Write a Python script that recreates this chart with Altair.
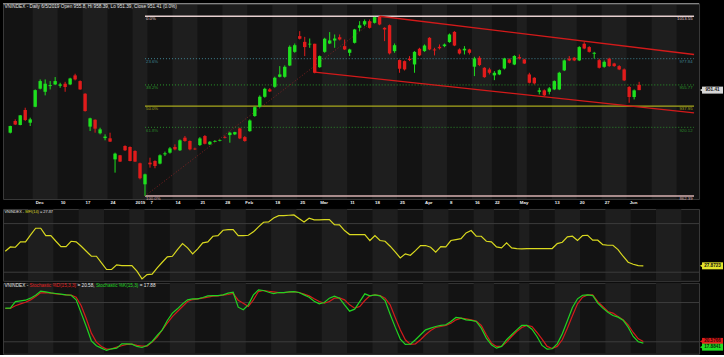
import altair as alt
import pandas as pd

FONT = "Liberation Sans"

# ---------------- data (index 0 = 26 Nov 2018 ... 126 = 5 Jun 2019) ----------------
OPEN = [
    915.6, 925.4, 922.1, 934.7, 924.0, 937.4, 952.6, 950.0, 954.8, 956.2,
    955.1, 956.8, 956.2, 963.8, 959.0, 948.4, 920.7, 926.5, 915.1, 911.1,
    910.9, 893.2, 896.6, 904.4, 903.6, 900.2, 889.9, 872.2, 890.4, 891.8,
    889.6, 897.4, 898.8, 903.6, 900.8, 911.4, 908.6, 902.2, 905.2, 912.8,
    905.8, 908.0, 908.6, 912.0, 913.6, 914.2, 919.2, 911.9, 916.9, 929.6,
    937.4, 945.8, 952.0, 954.2, 962.6, 962.6, 972.1, 983.6, 996.8, 992.0,
    989.8, 990.4, 970.7, 983.6, 990.6, 993.1, 995.9, 988.4, 982.8, 991.2,
    1003.8, 1006.6, 1009.4, 1008.0, 1013.0, 1003.8, 1006.0, 984.2, 976.7, 975.8,
    977.8, 973.0, 986.2, 984.2, 995.4, 985.6, 987.8, 988.4, 991.8, 1000.4,
    985.6, 984.8, 985.6, 971.1, 978.6, 970.2, 968.8, 963.8, 964.6, 969.6,
    977.2, 973.0, 979.2, 977.2, 964.6, 961.8, 950.0, 951.2, 950.0, 952.0,
    952.0, 968.0, 977.8, 978.6, 976.4, 990.4, 987.6, 982.0, 976.6, 971.0,
    977.8, 973.8, 971.6, 968.8, 954.0, 945.6, 955.8,
]
HIGH = [
    921.5, 926.8, 930.5, 936.6, 928.2, 952.0, 960.4, 960.4, 959.0, 962.4,
    957.6, 958.4, 961.8, 965.2, 959.6, 948.8, 928.2, 926.8, 919.8, 914.2,
    915.6, 898.8, 896.9, 905.0, 904.1, 900.8, 890.4, 881.2, 894.6, 892.4,
    897.4, 899.7, 903.6, 905.8, 910.0, 912.8, 909.1, 903.0, 911.9, 913.6,
    908.6, 909.4, 910.0, 913.1, 916.4, 916.4, 919.8, 912.8, 926.8, 937.9,
    947.0, 953.4, 953.1, 962.7, 971.6, 972.2, 989.0, 990.6, 1001.0, 996.2,
    994.8, 990.4, 980.6, 995.4, 1000.2, 998.2, 998.2, 994.0, 986.2, 1002.9,
    1009.4, 1010.8, 1010.8, 1013.0, 1013.55, 1004.3, 1006.6, 990.6, 977.2, 976.3,
    980.0, 984.2, 987.0, 989.8, 995.9, 987.0, 989.8, 990.6, 999.0, 1001.0,
    986.5, 988.4, 986.2, 979.4, 980.0, 970.7, 970.2, 967.4, 968.8, 978.6,
    978.0, 980.8, 981.4, 977.7, 966.0, 962.3, 953.4, 952.0, 954.0, 959.6,
    966.8, 977.2, 980.0, 979.2, 988.4, 991.7, 988.4, 983.6, 977.8, 976.4,
    978.6, 974.4, 972.4, 969.6, 954.8, 952.0, 958.39,
]
LOW = [
    915.0, 922.0, 921.8, 925.4, 921.2, 937.0, 952.0, 947.0, 952.0, 955.6,
    953.4, 950.0, 955.6, 959.6, 951.7, 933.3, 917.0, 915.6, 914.2, 909.2,
    907.8, 882.0, 891.0, 900.2, 891.5, 891.0, 876.4, 862.39, 886.2, 885.7,
    889.0, 896.0, 898.0, 900.8, 900.2, 908.0, 900.8, 901.0, 904.4, 905.8,
    905.2, 907.7, 908.3, 910.8, 907.2, 913.6, 910.2, 908.0, 916.4, 929.0,
    936.6, 945.0, 949.8, 953.4, 962.1, 961.8, 971.6, 982.8, 994.0, 980.0,
    987.0, 965.5, 970.2, 982.8, 990.1, 987.0, 993.2, 985.1, 980.0, 990.6,
    1001.0, 1005.2, 1003.2, 1007.4, 1006.0, 992.6, 981.4, 982.8, 966.0, 967.9,
    975.8, 966.0, 980.0, 983.6, 985.0, 980.6, 985.6, 987.5, 991.2, 988.4,
    981.4, 981.4, 981.4, 963.2, 971.6, 961.8, 964.6, 959.8, 964.0, 968.8,
    973.8, 972.4, 977.2, 973.5, 957.0, 956.2, 947.8, 946.4, 947.8, 951.4,
    951.4, 967.4, 975.8, 975.8, 975.8, 985.8, 983.0, 978.0, 969.6, 970.2,
    971.0, 971.0, 968.2, 959.0, 940.8, 943.6, 951.39,
]
CLOSE = [
    921.2, 922.6, 930.2, 926.3, 926.8, 951.4, 959.0, 956.8, 955.6, 959.0,
    956.2, 954.0, 961.2, 960.4, 952.0, 933.8, 927.7, 919.0, 918.4, 912.3,
    908.1, 898.0, 891.3, 900.8, 891.8, 891.3, 877.3, 880.6, 889.0, 887.6,
    896.6, 898.3, 902.4, 901.6, 909.2, 908.6, 901.6, 901.6, 910.8, 906.3,
    908.0, 908.6, 909.2, 911.4, 915.6, 916.1, 910.8, 908.6, 925.9, 937.1,
    945.9, 952.5, 950.3, 961.8, 964.6, 971.0, 987.8, 989.2, 994.6, 987.6,
    990.4, 966.0, 980.0, 994.6, 993.2, 994.8, 994.0, 985.6, 985.6, 1002.4,
    1005.9, 1009.4, 1003.8, 1012.8, 1006.6, 1002.4, 982.3, 989.2, 969.4, 968.8,
    976.7, 983.6, 980.6, 988.9, 985.6, 984.8, 986.6, 989.8, 998.2, 988.9,
    982.2, 986.2, 982.8, 978.0, 972.5, 962.3, 966.0, 966.0, 968.2, 978.0,
    974.4, 980.0, 978.0, 973.8, 957.6, 957.1, 951.2, 947.0, 952.9, 959.0,
    966.0, 976.4, 976.4, 976.4, 987.6, 986.4, 983.6, 982.8, 970.2, 975.2,
    971.6, 971.6, 968.8, 959.6, 945.6, 951.2, 951.41,
]
MFI = [
    45.9, 51.2, 50.8, 57.4, 57.4, 66.1, 74.3, 74.3, 65.2, 65.2,
    58.2, 51.6, 51.6, 58.2, 57.4, 52.1, 45.9, 39.7, 39.7, 31.5,
    23.3, 23.3, 29.0, 28.2, 28.2, 28.2, 21.2, 11.7, 17.1, 17.5,
    25.3, 32.3, 38.9, 39.7, 47.9, 55.3, 50.0, 42.6, 48.8, 56.2,
    57.4, 64.4, 65.2, 71.8, 72.6, 72.6, 65.2, 65.2, 65.6, 69.8,
    75.9, 81.7, 82.1, 87.0, 89.9, 89.9, 90.3, 90.7, 86.2, 82.1,
    86.6, 84.6, 84.6, 85.0, 85.0, 78.8, 78.4, 71.4, 66.5, 66.5,
    66.5, 66.5, 59.1, 65.2, 59.1, 58.2, 52.1, 45.1, 37.7, 42.6,
    40.9, 46.7, 52.9, 52.9, 50.8, 44.7, 51.6, 51.2, 59.1, 60.3,
    61.5, 68.5, 71.4, 64.4, 64.4, 58.2, 57.4, 51.2, 50.0, 56.2,
    50.0, 49.2, 48.8, 49.2, 49.2, 49.2, 49.2, 49.2, 49.2, 55.3,
    57.0, 63.6, 64.4, 59.1, 65.2, 65.6, 59.5, 59.5, 54.1, 53.3,
    53.3, 47.9, 39.7, 32.3, 29.8, 28.2, 27.87,
]
STOCH_K = [
    71.4, 71.4, 81.5, 82.5, 83.6, 86.7, 91.2, 97.3, 96.3, 94.8,
    93.8, 92.8, 91.7, 91.2, 84.1, 63.8, 43.4, 21.5, 13.9, 10.3,
    6.8, 9.3, 10.3, 16.9, 16.9, 16.4, 12.9, 11.3, 14.4, 20.5,
    29.6, 38.3, 52.6, 63.8, 70.4, 78.0, 84.1, 85.7, 85.7, 87.7,
    90.2, 90.7, 90.7, 91.7, 94.3, 95.8, 72.9, 68.9, 76.5, 91.7,
    99.4, 98.4, 95.8, 93.8, 95.3, 95.3, 96.3, 96.8, 95.3, 91.7,
    88.2, 82.0, 78.0, 80.0, 86.7, 89.7, 86.7, 76.5, 66.8, 69.9,
    81.5, 93.3, 90.2, 91.7, 90.2, 83.1, 62.2, 42.4, 24.1, 15.9,
    16.4, 23.1, 30.7, 38.3, 40.8, 43.4, 45.0, 46.0, 51.0, 57.2,
    56.1, 53.6, 52.6, 51.0, 40.8, 25.6, 15.4, 10.3, 12.9, 23.1,
    30.7, 38.3, 45.0, 45.0, 39.3, 28.1, 14.4, 8.8, 9.3, 16.9,
    32.2, 52.1, 72.4, 85.7, 91.2, 91.7, 90.7, 79.0, 71.4, 65.3,
    60.2, 57.7, 53.0, 42.4, 28.1, 20.0, 17.88,
]
STOCH_D = [
    70.9, 70.9, 75.0, 78.0, 80.5, 84.1, 89.2, 94.8, 95.3, 94.3,
    93.3, 92.3, 91.7, 91.2, 88.2, 75.0, 55.1, 33.2, 19.5, 12.9,
    8.8, 9.3, 11.9, 13.9, 15.9, 16.4, 14.4, 13.4, 13.4, 19.5,
    27.1, 38.3, 48.5, 58.6, 66.3, 73.9, 81.5, 84.6, 85.7, 86.7,
    88.2, 89.7, 90.2, 91.2, 92.3, 93.8, 83.6, 79.0, 73.9, 84.1,
    96.8, 98.4, 97.3, 96.3, 95.3, 95.3, 95.8, 96.8, 95.3, 92.8,
    90.2, 85.7, 81.5, 79.0, 81.5, 86.7, 87.2, 84.1, 76.5, 71.4,
    73.9, 83.1, 90.2, 91.7, 90.7, 86.7, 76.5, 57.2, 38.3, 23.1,
    15.9, 16.9, 23.1, 30.7, 37.3, 41.9, 43.4, 45.0, 48.5, 53.6,
    56.1, 55.1, 53.6, 51.6, 45.0, 30.7, 17.9, 12.9, 12.9, 19.5,
    28.1, 35.8, 41.9, 45.0, 43.4, 34.2, 24.1, 12.9, 9.8, 12.9,
    23.1, 40.8, 59.7, 78.0, 88.2, 91.7, 91.7, 81.5, 73.9, 66.3,
    63.8, 58.6, 53.6, 46.0, 34.2, 24.6, 20.58,
]

LABEL_IDX = [5, 10, 15, 20, 25, 28, 33, 38, 43, 47, 53, 58, 62, 68, 73, 78,
             83, 88, 93, 97, 102, 109, 114, 119, 124]
LABEL_TXT = ["Dec", "10", "17", "24", "2019", "7", "14", "21", "28", "Feb", "18",
             "25", "Mar", "11", "18", "25", "Apr", "8", "16", "22", "May", "13",
             "20", "27", "Jun"]
WEEK_START = [0, 5, 10, 15, 20, 25, 28, 33, 38, 43, 48, 53, 58, 63, 68, 73, 78,
              83, 88, 93, 97, 102, 104, 109, 114, 119, 124, 129, 134, 139]

FIB_PCT = ["0.0%", "23.6%", "38.2%", "50.0%", "61.8%", "100.0%"]
FIB_VAL = [1013.55, 977.84, 955.77, 937.95, 920.12, 862.39]
FIB_TXT = ["1013.55", "977.84", "955.77", "937.95", "920.12", "862.39"]
FIB_START = 27
TREND = [27, 862.39, 74, 1013.55]
CHANNEL_UP = [74, 1013.55, 137.0, 981.4]
CHANNEL_LO = [61, 966.5, 137.0, 932.3]

# ---------------- layout / style ----------------
W, H_P, H_M, H_S = 697, 196, 72, 71
X_DOMAIN = [-0.45, 137.0]
P_DOMAIN = [859.87, 1024.47]
M_DOMAIN = [9.3, 98.1]
S_DOMAIN = [1.7, 110.1]

GREEN = "#1ee01e"
RED = "#e11b1b"
YELLOW = "#d9d91f"
BAND = "#1e1e1e"
BG = "#131313"
WHITE = "#e4e4e4"
FIB_COL = ["#e6cfcf", "#3f8595", "#2a9a2a", "#a8a81c", "#2a8a2a", "#d8b2b2"]
FIB_W = [1.6, 1, 1, 1.2, 1, 1.6]
FIB_DASH = [None, [1, 2], [1, 2], None, [1, 2], None]

AW = {' ': 278, '-': 333, '%': 889, '(': 333, ')': 333, ',': 278, '.': 278,
      '=': 584, '/': 278, 'V': 667, 'N': 722, 'I': 278, 'D': 722, 'E': 667,
      'X': 667, 'M': 833, 'F': 611, 'S': 667, 'K': 667, 'O': 778, 'H': 722,
      'L': 556, 'C': 722, 'a': 556, 'c': 500, 'e': 556, 'h': 556, 'i': 222,
      'l': 222, 'n': 556, 'o': 556, 'p': 556, 's': 500, 't': 278, 'y': 500}


def tw(s, fs):
    return sum(AW.get(ch, 556) for ch in s) * fs / 1000.0


xs = alt.Scale(domain=X_DOMAIN, nice=False, zero=False)
arr_txt = "[" + ",".join("'%s'" % t for t in LABEL_TXT) + "]"
arr_idx = "[" + ",".join(str(v) for v in LABEL_IDX) + "]"
x_axis = alt.Axis(values=LABEL_IDX, labelExpr=f"{arr_txt}[indexof({arr_idx}, datum.value)]",
                  labelAlign="left", labelBaseline="top", labelColor="#eeeeee", labelFont=FONT,
                  labelFontSize=4.4, labelFontWeight="bold", labelPadding=2, ticks=False,
                  domain=False, grid=False, title=None, labelOverlap=False, labelFlush=False,
                  minExtent=8, maxExtent=8)


def XP(f):
    return alt.X(f, type="quantitative", scale=xs, axis=x_axis)


def XN(f):
    return alt.X(f, type="quantitative", scale=xs, axis=None)


def YS(f, dom, axis=None):
    return alt.Y(f, type="quantitative", scale=alt.Scale(domain=dom, nice=False, zero=False), axis=axis)


# bands (alternate weeks)
band_rows = []
for w in range(len(WEEK_START) - 1):
    if w % 2 == 1:
        band_rows.append({"x0": WEEK_START[w] - 0.5, "x1": WEEK_START[w + 1] - 0.5})
bands_df = pd.DataFrame(band_rows)


def bands(XF, h):
    return alt.Chart(bands_df).mark_rect(color=BAND).encode(
        x=XF("x0"), x2="x1", y=alt.value(0), y2=alt.value(h))


def header(segs, y, fs, x0=1.5):
    out = []
    x = x0
    for text, col in segs:
        lead = len(text) - len(text.lstrip(" "))
        xs0 = x + tw(text[:lead], fs)
        out.append(alt.Chart(pd.DataFrame({"t": [text.strip()]})).mark_text(
            align="left", baseline="middle", font=FONT, fontSize=fs, color=col
        ).encode(x=alt.value(xs0), y=alt.value(y), text="t:N"))
        x += tw(text, fs)
    return out


def tag(value, text, dom, bg, fg, yoff=0):
    d = pd.DataFrame({"v": [value], "t": [text]})
    base = alt.Chart(d)
    return [
        base.mark_tick(orient="horizontal", size=21, thickness=7, color=bg, opacity=1,
                       yOffset=yoff).encode(x=alt.value(W + 13.5), y=YS("v", dom)),
        base.mark_point(shape="triangle-left", filled=True, size=14, color=bg, opacity=1,
                        yOffset=yoff).encode(x=alt.value(W + 2.5), y=YS("v", dom)),
        base.mark_text(font=FONT, fontSize=4.6, fontWeight="bold", color=fg, align="center",
                       baseline="middle", yOffset=yoff).encode(
            x=alt.value(W + 13.5), y=YS("v", dom), text="t:N"),
    ]


# ---------------- price panel ----------------
candles = pd.DataFrame({"i": list(range(len(CLOSE))), "o": OPEN, "h": HIGH, "l": LOW, "c": CLOSE})
candles["dir"] = ["up" if c >= o else "down" for o, c in zip(OPEN, CLOSE)]
dir_color = alt.Color("dir:N", scale=alt.Scale(domain=["up", "down"], range=[GREEN, RED]), legend=None)

price_layers = [bands(XP, H_P)]
price_layers.append(alt.Chart(pd.DataFrame({"a": [0]})).mark_rule(color="#a0a0a0", strokeWidth=1).encode(
    x=alt.value(0), x2=alt.value(W), y=alt.value(0.5)))

for k in range(len(FIB_VAL)):
    fd = pd.DataFrame({"x0": [FIB_START], "x1": [X_DOMAIN[1]], "v": [FIB_VAL[k]],
                       "pct": [FIB_PCT[k]], "vt": [FIB_TXT[k]]})
    kw = dict(color=FIB_COL[k], strokeWidth=FIB_W[k])
    if FIB_DASH[k] is not None:
        kw["strokeDash"] = FIB_DASH[k]
    price_layers.append(alt.Chart(fd).mark_rule(**kw).encode(x=XP("x0"), x2="x1", y=YS("v", P_DOMAIN)))
    price_layers.append(alt.Chart(fd).mark_text(align="left", baseline="top", dx=1, dy=1.2, font=FONT,
                                                fontSize=4.3, color=FIB_COL[k]).encode(
        x=XP("x0"), y=YS("v", P_DOMAIN), text="pct:N"))
    price_layers.append(alt.Chart(fd).mark_text(align="right", baseline="top", dx=-1.5, dy=1.2, font=FONT,
                                                fontSize=4.3, color=FIB_COL[k]).encode(
        x=XP("x1"), y=YS("v", P_DOMAIN), text="vt:N"))

trend_df = pd.DataFrame({"x": [TREND[0]], "y": [TREND[1]], "x2": [TREND[2]], "y2": [TREND[3]]})
price_layers.append(alt.Chart(trend_df).mark_rule(color="#8a2222", strokeWidth=0.9, strokeDash=[1, 2]).encode(
    x=XP("x"), y=YS("y", P_DOMAIN), x2="x2", y2="y2"))
chan_df = pd.DataFrame({"x": [CHANNEL_UP[0], CHANNEL_LO[0]], "y": [CHANNEL_UP[1], CHANNEL_LO[1]],
                        "x2": [CHANNEL_UP[2], CHANNEL_LO[2]], "y2": [CHANNEL_UP[3], CHANNEL_LO[3]]})
price_layers.append(alt.Chart(chan_df).mark_rule(color="#d31a1a", strokeWidth=1.4).encode(
    x=XP("x"), y=YS("y", P_DOMAIN), x2="x2", y2="y2"))

price_layers.append(alt.Chart(candles).mark_rule(strokeWidth=1).encode(
    x=XP("i"), y=YS("l", P_DOMAIN), y2="h", color=dir_color))
price_layers.append(alt.Chart(candles).mark_bar(size=3.4).encode(
    x=XP("i"), y=YS("o", P_DOMAIN), y2="c", color=dir_color))

price_layers += header([("VNINDEX - Daily 6/5/2019 Open 955.8, Hi 958.39, Lo 951.39, Close 951.41 (0.0%)", WHITE)],
                       3.6, 4.7)
price_layers += tag(CLOSE[-1], "951.41", P_DOMAIN, "#d6d6d6", "#111111")

price = alt.layer(*price_layers).properties(width=W, height=H_P)

# ---------------- MFI panel ----------------
mfi_df = pd.DataFrame({"i": list(range(len(MFI))), "m": MFI})
grid_m = pd.DataFrame({"g": [20, 80]})
mfi_axis = alt.Axis(orient="right", values=[20, 80], grid=False, ticks=False, domain=False,
                    labelColor="#c4c4c4", labelFont=FONT, labelFontSize=4.6, labelPadding=16, title=None)
mfi_layers = [
    bands(XN, H_M),
    alt.Chart(grid_m).mark_rule(color="#3c3c3c", strokeWidth=1).encode(
        y=YS("g", M_DOMAIN), x=alt.value(0), x2=alt.value(W)),
    alt.Chart(mfi_df).mark_line(color=YELLOW, strokeWidth=1.2).encode(
        x=XN("i"), y=YS("m", M_DOMAIN, mfi_axis)),
]
mfi_layers += header([("VNINDEX - ", WHITE), ("MFI(14)", YELLOW), (" = 27.87", WHITE)], 2.9, 3.9)
mfi_layers += tag(MFI[-1], "27.8723", M_DOMAIN, "#e4e42c", "#111111")
mfi = alt.layer(*mfi_layers).properties(width=W, height=H_M)

# ---------------- Stochastic panel ----------------
st_df = pd.DataFrame({"i": list(range(len(STOCH_K))), "k": STOCH_K, "d": STOCH_D})
st_axis = alt.Axis(orient="right", values=[80], grid=False, ticks=False, domain=False,
                   labelColor="#c4c4c4", labelFont=FONT, labelFontSize=4.6, labelPadding=16, title=None)
st_layers = [
    bands(XN, H_S),
    alt.Chart(grid_m).mark_rule(color="#3c3c3c", strokeWidth=1).encode(
        y=YS("g", S_DOMAIN), x=alt.value(0), x2=alt.value(W)),
    alt.Chart(st_df).mark_line(color="#d21c1c", strokeWidth=1.2).encode(
        x=XN("i"), y=YS("d", S_DOMAIN, st_axis)),
    alt.Chart(st_df).mark_line(color="#21d321", strokeWidth=1.2).encode(
        x=XN("i"), y=YS("k", S_DOMAIN)),
]
st_layers += header([("VNINDEX - ", WHITE), ("Stochastic %D(15,3,3)", "#e02020"), (" = 20.58, ", WHITE),
                     ("Stochastic %K(15,3)", "#22d622"), (" = 17.88", WHITE)], 3.4, 4.7)
st_layers += tag(STOCH_D[-1], "20.5766", S_DOMAIN, "#e21e1e", "#3a0000")
st_layers += tag(STOCH_K[-1], "17.8841", S_DOMAIN, "#22dd22", "#062b06", yoff=4)
stoch = alt.layer(*st_layers).properties(width=W, height=H_S)

chart = alt.vconcat(price, mfi, stoch, spacing=0).properties(
    background="#000000",
    padding={"left": 2, "top": 2, "right": 0, "bottom": 0},
).configure_view(fill=BG, stroke="#3a3a3a", strokeWidth=1).configure_concat(spacing=0)

chart.save("out.html", embed_options={"renderer": "svg", "actions": False})
